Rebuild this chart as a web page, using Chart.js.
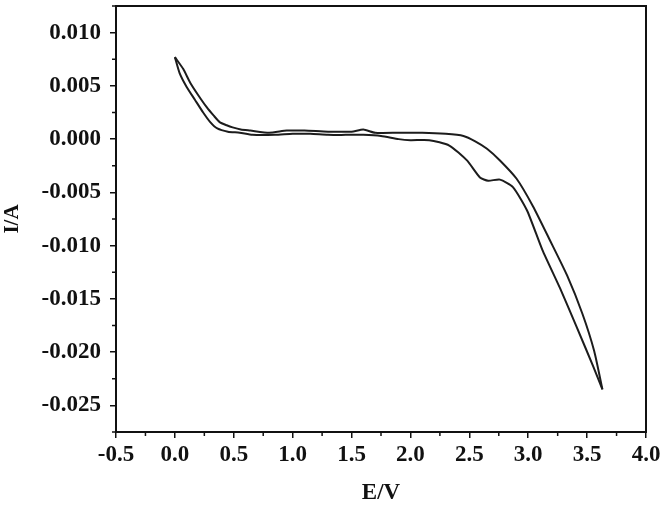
<!DOCTYPE html>
<html>
<head>
<meta charset="utf-8">
<script src="https://cdn.jsdelivr.net/npm/chart.js"></script>
<style>
  html, body { margin: 0; padding: 0; background: #fff; }
  #wrap { width: 668px; height: 509px; }
</style>
</head>
<body>
<div id="wrap"><canvas id="cv"></canvas></div>
<script>
// forward scan (upper branch), 0 V -> 3.63 V
var fwdE = [0.00, 0.07, 0.13, 0.20, 0.27, 0.33, 0.38, 0.44, 0.49, 0.56, 0.64, 0.80, 0.95, 1.10, 1.30, 1.50, 1.60, 1.70, 1.90, 2.10, 2.30, 2.45, 2.55, 2.65, 2.76, 2.90, 3.04, 3.18, 3.33, 3.46, 3.56, 3.63];
var fwdI = [0.0077, 0.0066, 0.0053, 0.0041, 0.0030, 0.0022, 0.0016, 0.0013, 0.0011, 0.0009, 0.0008, 0.0006, 0.0008, 0.0008, 0.0007, 0.0007, 0.0009, 0.0006, 0.0006, 0.0006, 0.0005, 0.0003, -0.0002, -0.0009, -0.0020, -0.0037, -0.0063, -0.0094, -0.0128, -0.0164, -0.0199, -0.0235];
// reverse scan (lower branch), 3.63 V -> 0 V
var revE = [3.63, 3.55, 3.41, 3.27, 3.12, 2.99, 2.87, 2.76, 2.66, 2.59, 2.48, 2.33, 2.16, 2.00, 1.90, 1.75, 1.60, 1.45, 1.30, 1.15, 1.00, 0.85, 0.66, 0.55, 0.45, 0.36, 0.30, 0.24, 0.17, 0.10, 0.04, 0.00];
var revI = [-0.0235, -0.0213, -0.0176, -0.0140, -0.0104, -0.0067, -0.0045, -0.0038, -0.0039, -0.0036, -0.0020, -0.0006, -0.0001, -0.0001, 0.0000, 0.0003, 0.0004, 0.0004, 0.0004, 0.0005, 0.0005, 0.0004, 0.0004, 0.0006, 0.0007, 0.0010, 0.0016, 0.0025, 0.0037, 0.0049, 0.0062, 0.0077];

var xTicks = [-0.5, 0.0, 0.5, 1.0, 1.5, 2.0, 2.5, 3.0, 3.5, 4.0];
var yTicks = [-0.025, -0.020, -0.015, -0.010, -0.005, 0.000, 0.005, 0.010];

var fwdPts = [], revPts = [];
for (var i = 0; i < fwdE.length; i++) fwdPts.push({x: fwdE[i], y: fwdI[i]});
for (var j = 0; j < revE.length; j++) revPts.push({x: revE[j], y: revI[j]});

var FONT = "'Liberation Serif', 'Times New Roman', serif";

var frame = {
  id: 'frame',
  afterDraw: function(chart) {
    var c = chart.ctx, a = chart.chartArea;
    var xs = chart.scales.x, ys = chart.scales.y;
    c.save();
    c.strokeStyle = '#111';
    c.lineWidth = 2;
    c.strokeRect(a.left, a.top, a.right - a.left, a.bottom - a.top);
    // minor ticks
    c.lineWidth = 1.5;
    c.beginPath();
    for (var k = 0; k < xTicks.length - 1; k++) {
      var px = xs.getPixelForValue((xTicks[k] + xTicks[k + 1]) / 2);
      c.moveTo(px, a.bottom);
      c.lineTo(px, a.bottom + 4);
    }
    for (var m = 0; m < yTicks.length; m++) {
      var py = ys.getPixelForValue(yTicks[m] + 0.0025);
      if (py < a.top) continue;
      c.moveTo(a.left, py);
      c.lineTo(a.left - 4, py);
    }
    var pb = ys.getPixelForValue(yTicks[0] - 0.0025);
    if (pb <= a.bottom) { c.moveTo(a.left, pb); c.lineTo(a.left - 4, pb); }
    c.stroke();
    c.restore();
  }
};

var lineStyle = {
  showLine: true,
  borderColor: '#1c1c1c',
  borderWidth: 2,
  pointRadius: 0,
  tension: 0.2,
  fill: false
};

new Chart(document.getElementById('cv'), {
  type: 'scatter',
  data: {
    datasets: [
      Object.assign({ data: fwdPts }, lineStyle),
      Object.assign({ data: revPts }, lineStyle)
    ]
  },
  options: {
    responsive: true,
    maintainAspectRatio: false,
    animation: false,
    layout: { padding: { left: 0, right: 22, top: 6, bottom: 0 } },
    plugins: { legend: { display: false }, tooltip: { enabled: false } },
    scales: {
      x: {
        type: 'linear',
        min: -0.5,
        max: 4.0,
        afterBuildTicks: function(s) { s.ticks = xTicks.map(function(v) { return {value: v}; }); },
        afterFit: function(s) { s.height = 77; s.paddingLeft = 0; s.paddingRight = 0; },
        grid: { display: true, drawOnChartArea: false, drawTicks: true, tickLength: 6, color: '#111', lineWidth: 1.5 },
        border: { display: true, color: '#111', width: 2 },
        ticks: {
          padding: 3,
          maxRotation: 0,
          color: '#111',
          font: { family: FONT, size: 23, weight: 'bold' },
          callback: function(v) { return Number(v).toFixed(1); }
        },
        title: {
          display: true,
          text: 'E/V',
          color: '#111',
          font: { family: FONT, size: 23, weight: 'bold', lineHeight: 1.2 },
          padding: { top: 2, bottom: 2 }
        }
      },
      y: {
        type: 'linear',
        min: -0.0275,
        max: 0.0125,
        afterBuildTicks: function(s) { s.ticks = yTicks.map(function(v) { return {value: v}; }); },
        afterFit: function(s) { s.width = 116; s.paddingTop = 0; s.paddingBottom = 0; },
        grid: { display: true, drawOnChartArea: false, drawTicks: true, tickLength: 6, color: '#111', lineWidth: 1.5 },
        border: { display: true, color: '#111', width: 2 },
        ticks: {
          padding: 9,
          color: '#111',
          font: { family: FONT, size: 23, weight: 'bold' },
          callback: function(v) { return Number(v).toFixed(3); }
        },
        title: {
          display: true,
          text: 'I/A',
          color: '#111',
          font: { family: FONT, size: 21, weight: 'bold', lineHeight: 1.2 },
          padding: { top: 0, bottom: 0 }
        }
      }
    }
  },
  plugins: [frame]
});
</script>
</body>
</html>
